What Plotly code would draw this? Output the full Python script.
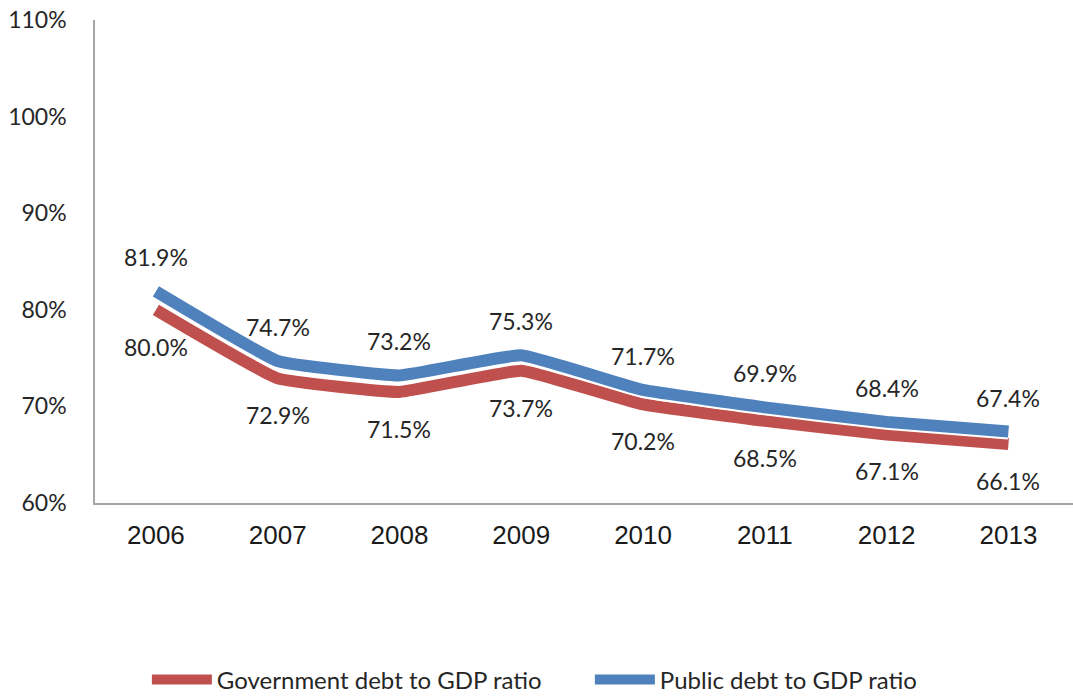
import plotly.graph_objects as go

years = ["2006", "2007", "2008", "2009", "2010", "2011", "2012", "2013"]
gov_debt = [80.0, 72.9, 71.5, 73.7, 70.2, 68.5, 67.1, 66.1]
pub_debt = [81.9, 74.7, 73.2, 75.3, 71.7, 69.9, 68.4, 67.4]
y_ticks = [60, 70, 80, 90, 100, 110]
y_tick_text = ["60%", "70%", "80%", "90%", "100%", "110%"]

RED = "#C0504D"
BLUE = "#4F81BD"
LABEL_FONT = "Lato, Open Sans, sans-serif"

fig = go.Figure()

for name, vals, color in [("Government debt to GDP ratio", gov_debt, RED),
                          ("Public debt to GDP ratio", pub_debt, BLUE)]:
    fig.add_trace(go.Scatter(x=years, y=vals, mode="lines",
                             line=dict(color="white", width=16, shape="spline", smoothing=0.3),
                             showlegend=False, hoverinfo="skip"))
    fig.add_trace(go.Scatter(x=years, y=vals, mode="lines", name=name,
                             line=dict(color=color, width=12, shape="spline", smoothing=0.3)))

# category axis: annotation x given as category index
for i, v in enumerate(pub_debt):
    fig.add_annotation(x=i, y=v, text=f"{v:.1f}%", showarrow=False, yshift=34,
                       font=dict(family=LABEL_FONT, size=23, color="#262626"))
for i, v in enumerate(gov_debt):
    fig.add_annotation(x=i, y=v, text=f"{v:.1f}%", showarrow=False, yshift=-37,
                       font=dict(family=LABEL_FONT, size=23, color="#262626"))

fig.update_layout(
    width=1073, height=696,
    margin=dict(l=95, r=0, t=20, b=193, autoexpand=False),
    plot_bgcolor="white", paper_bgcolor="white",
    showlegend=True,
    legend=dict(orientation="h", x=0.506, xanchor="center",
                yref="container", y=1 - 680 / 696, yanchor="middle",
                font=dict(family=LABEL_FONT, size=24, color="#262626"),
                itemwidth=60, entrywidth=368, entrywidthmode="pixels",
                traceorder="normal"),
    xaxis=dict(type="category", range=[-0.5, 7.53], showgrid=False, showline=True,
               linecolor="#A6A6A6", linewidth=1.5, ticks="", automargin=False,
               tickfont=dict(family="Liberation Sans, Arial, sans-serif", size=26, color="#1a1a1a"),
               ticklabelstandoff=8),
    yaxis=dict(range=[60, 110], tickvals=y_ticks, ticktext=y_tick_text, showgrid=False,
               showline=True, linecolor="#A6A6A6", linewidth=1.5, ticks="",
               zeroline=False, automargin=False,
               tickfont=dict(family=LABEL_FONT, size=23, color="#262626"),
               ticklabelstandoff=22),
)

fig.write_html("out.html")
